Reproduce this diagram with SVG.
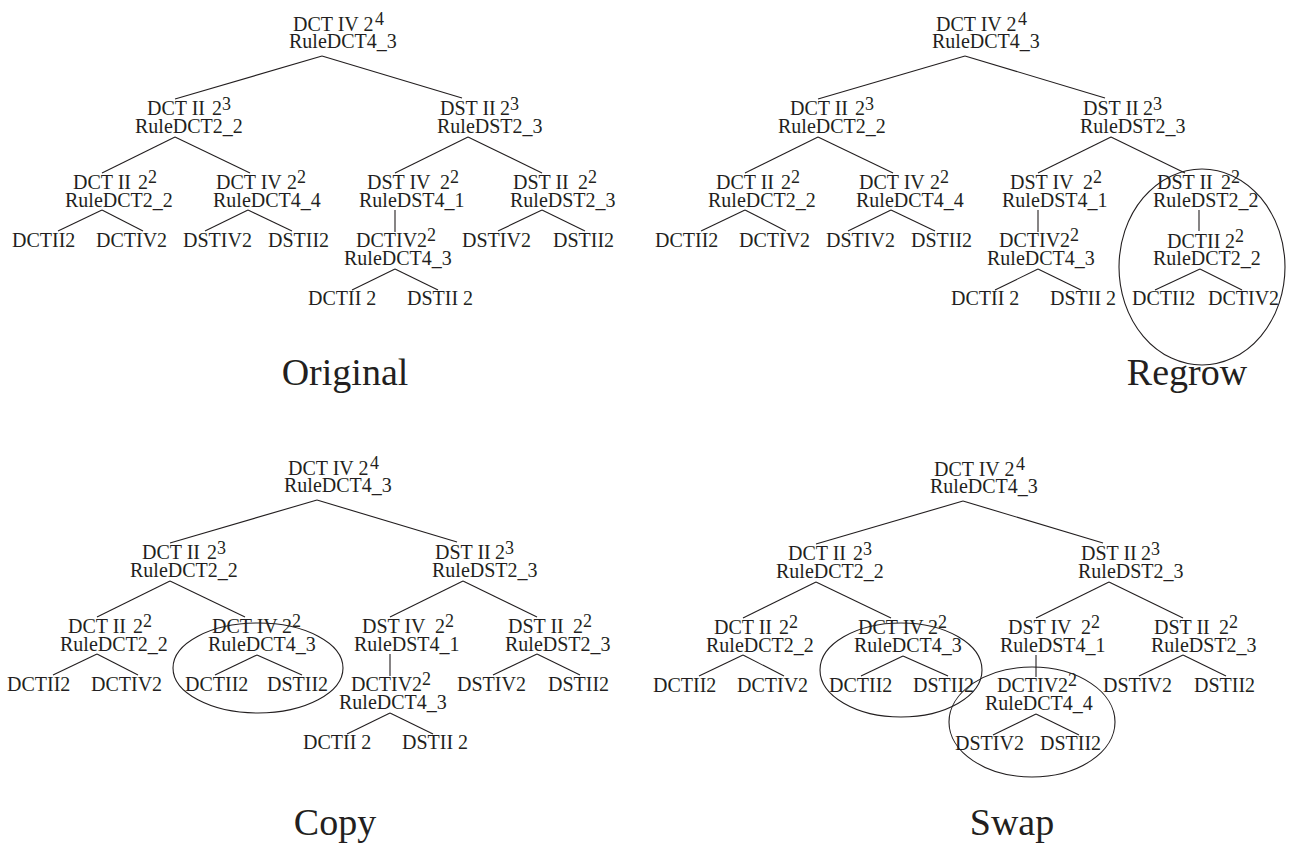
<svg xmlns="http://www.w3.org/2000/svg" width="1296" height="851" viewBox="0 0 1296 851">
<style>
text { font-family: "Liberation Serif", "Times New Roman", serif; font-size: 20px; fill: #231f20; }
.s { font-size: 18px; }
.title { font-size: 38px; text-anchor: middle; }
line { stroke: #231f20; stroke-width: 1.1; }
ellipse { fill: none; stroke: #231f20; stroke-width: 1.1; }
</style>
<rect width="1296" height="851" fill="#fff"/>

<!-- ============ ORIGINAL ============ -->
<g id="original" transform="translate(0,0)">
  <g id="o-edges">
    <line x1="322" y1="56" x2="175" y2="99"/><line x1="322" y1="56" x2="462" y2="98"/>
    <line x1="175" y1="137" x2="102" y2="173"/><line x1="175" y1="137" x2="250" y2="173"/>
    <line x1="468" y1="137" x2="395" y2="173"/><line x1="468" y1="137" x2="542" y2="173"/>
    <line x1="102" y1="210" x2="58" y2="231"/><line x1="102" y1="210" x2="143" y2="231"/>
    <line x1="248" y1="210" x2="205" y2="231"/><line x1="248" y1="210" x2="292" y2="231"/>
    <line x1="395" y1="210" x2="395" y2="232"/>
    <line x1="542" y1="210" x2="498" y2="231"/><line x1="542" y1="210" x2="585" y2="231"/>
    <line x1="395" y1="269" x2="352" y2="290"/><line x1="395" y1="269" x2="438" y2="290"/>
  </g>
  <g id="o-root"><text x="293" y="31">DCT IV 2<tspan class="s" x="375" dy="-6">4</tspan><tspan x="289" dy="23">RuleDCT4_3</tspan></text></g>
  <g id="o-dct2-3"><text x="147" y="115">DCT II<tspan x="212">2</tspan><tspan class="s" x="222" dy="-5">3</tspan><tspan x="135" dy="23">RuleDCT2_2</tspan></text></g>
  <g id="o-dst2-3"><text x="440" y="115">DST II<tspan x="500">2</tspan><tspan class="s" x="510" dy="-5">3</tspan><tspan x="437" dy="23">RuleDST2_3</tspan></text></g>
  <g id="o-dct2-2"><text x="73" y="189">DCT II<tspan x="138">2</tspan><tspan class="s" x="148" dy="-6">2</tspan><tspan x="65" dy="24">RuleDCT2_2</tspan></text></g>
  <g id="o-dct4-2"><text x="216" y="189">DCT IV<tspan x="287">2</tspan><tspan class="s" x="297" dy="-6">2</tspan><tspan x="213" dy="24">RuleDCT4_4</tspan></text></g>
  <g id="o-dst4-2"><text x="367" y="189">DST IV<tspan x="440">2</tspan><tspan class="s" x="450" dy="-6">2</tspan><tspan x="359" dy="24">RuleDST4_1</tspan></text></g>
  <g id="o-dst2-2"><text x="513" y="189">DST II<tspan x="578">2</tspan><tspan class="s" x="588" dy="-6">2</tspan><tspan x="510" dy="24">RuleDST2_3</tspan></text></g>
  <g id="o-dctiv2"><text x="356" y="247">DCTIV2<tspan class="s" x="427" dy="-6">2</tspan><tspan x="344" dy="24">RuleDCT4_3</tspan></text></g>
  <g id="o-leaves">
    <text x="12" y="247">DCTII2</text><text x="96" y="247">DCTIV2</text><text x="183" y="247">DSTIV2</text><text x="268" y="247">DSTII2</text>
    <text x="462" y="247">DSTIV2</text><text x="553" y="247">DSTII2</text>
    <text x="308" y="305">DCTII 2</text><text x="407" y="305">DSTII 2</text>
  </g>
  <text class="title" x="345" y="385">Original</text>
</g>

<!-- ============ REGROW ============ -->
<g id="regrow" transform="translate(643,0)">
  <g id="r-edges">
    <line x1="322" y1="56" x2="175" y2="99"/><line x1="322" y1="56" x2="462" y2="98"/>
    <line x1="175" y1="137" x2="102" y2="173"/><line x1="175" y1="137" x2="250" y2="173"/>
    <line x1="468" y1="137" x2="395" y2="173"/><line x1="468" y1="137" x2="542" y2="173"/>
    <line x1="102" y1="210" x2="58" y2="231"/><line x1="102" y1="210" x2="143" y2="231"/>
    <line x1="248" y1="210" x2="205" y2="231"/><line x1="248" y1="210" x2="292" y2="231"/>
    <line x1="395" y1="210" x2="395" y2="232"/>
    <line x1="556" y1="210" x2="556" y2="231"/>
    <line x1="395" y1="269" x2="352" y2="290"/><line x1="395" y1="269" x2="438" y2="290"/>
    <line x1="557" y1="269" x2="512" y2="290"/><line x1="557" y1="269" x2="599" y2="290"/>
  </g>
  <g id="r-root"><text x="293" y="31">DCT IV 2<tspan class="s" x="375" dy="-6">4</tspan><tspan x="289" dy="23">RuleDCT4_3</tspan></text></g>
  <g id="r-dct2-3"><text x="147" y="115">DCT II<tspan x="212">2</tspan><tspan class="s" x="222" dy="-5">3</tspan><tspan x="135" dy="23">RuleDCT2_2</tspan></text></g>
  <g id="r-dst2-3"><text x="440" y="115">DST II<tspan x="500">2</tspan><tspan class="s" x="510" dy="-5">3</tspan><tspan x="437" dy="23">RuleDST2_3</tspan></text></g>
  <g id="r-dct2-2"><text x="73" y="189">DCT II<tspan x="138">2</tspan><tspan class="s" x="148" dy="-6">2</tspan><tspan x="65" dy="24">RuleDCT2_2</tspan></text></g>
  <g id="r-dct4-2"><text x="216" y="189">DCT IV<tspan x="287">2</tspan><tspan class="s" x="297" dy="-6">2</tspan><tspan x="213" dy="24">RuleDCT4_4</tspan></text></g>
  <g id="r-dst4-2"><text x="367" y="189">DST IV<tspan x="440">2</tspan><tspan class="s" x="450" dy="-6">2</tspan><tspan x="359" dy="24">RuleDST4_1</tspan></text></g>
  <g id="r-dst2-2"><text x="514" y="189">DST II<tspan x="578">2</tspan><tspan class="s" x="588" dy="-6">2</tspan><tspan x="510" dy="24">RuleDST2_2</tspan></text></g>
  <g id="r-dctii2"><text x="524" y="248">DCTII<tspan x="582">2</tspan><tspan class="s" x="592" dy="-6">2</tspan><tspan x="510" dy="23">RuleDCT2_2</tspan></text></g>
  <g id="r-dctiv2"><text x="356" y="247">DCTIV2<tspan class="s" x="427" dy="-6">2</tspan><tspan x="344" dy="24">RuleDCT4_3</tspan></text></g>
  <g id="r-leaves">
    <text x="12" y="247">DCTII2</text><text x="96" y="247">DCTIV2</text><text x="183" y="247">DSTIV2</text><text x="268" y="247">DSTII2</text>
    <text x="308" y="305">DCTII 2</text><text x="407" y="305">DSTII 2</text>
    <text x="489" y="305">DCTII2</text><text x="565" y="305">DCTIV2</text>
  </g>
  <ellipse id="r-circle" cx="559" cy="267" rx="83" ry="98"/>
  <text class="title" x="544" y="385">Regrow</text>
</g>

<!-- ============ COPY ============ -->
<g id="copy" transform="translate(-5,444)">
  <g id="c-edges">
    <line x1="322" y1="56" x2="175" y2="99"/><line x1="322" y1="56" x2="462" y2="98"/>
    <line x1="175" y1="137" x2="102" y2="173"/><line x1="175" y1="137" x2="250" y2="173"/>
    <line x1="468" y1="137" x2="395" y2="173"/><line x1="468" y1="137" x2="542" y2="173"/>
    <line x1="102" y1="210" x2="58" y2="231"/><line x1="102" y1="210" x2="143" y2="231"/>
    <line x1="262" y1="211" x2="220" y2="231"/><line x1="262" y1="211" x2="307" y2="231"/>
    <line x1="395" y1="210" x2="395" y2="232"/>
    <line x1="542" y1="210" x2="498" y2="231"/><line x1="542" y1="210" x2="585" y2="231"/>
    <line x1="395" y1="269" x2="352" y2="290"/><line x1="395" y1="269" x2="438" y2="290"/>
  </g>
  <g id="c-root"><text x="293" y="31">DCT IV 2<tspan class="s" x="375" dy="-6">4</tspan><tspan x="289" dy="23">RuleDCT4_3</tspan></text></g>
  <g id="c-dct2-3"><text x="147" y="115">DCT II<tspan x="212">2</tspan><tspan class="s" x="222" dy="-5">3</tspan><tspan x="135" dy="23">RuleDCT2_2</tspan></text></g>
  <g id="c-dst2-3"><text x="440" y="115">DST II<tspan x="500">2</tspan><tspan class="s" x="510" dy="-5">3</tspan><tspan x="437" dy="23">RuleDST2_3</tspan></text></g>
  <g id="c-dct2-2"><text x="73" y="189">DCT II<tspan x="138">2</tspan><tspan class="s" x="148" dy="-6">2</tspan><tspan x="65" dy="24">RuleDCT2_2</tspan></text></g>
  <g id="c-dct4-2"><text x="217" y="189">DCT IV<tspan x="287">2</tspan><tspan class="s" x="297" dy="-6">2</tspan><tspan x="213" dy="24">RuleDCT4_3</tspan></text></g>
  <g id="c-dst4-2"><text x="367" y="189">DST IV<tspan x="440">2</tspan><tspan class="s" x="450" dy="-6">2</tspan><tspan x="359" dy="24">RuleDST4_1</tspan></text></g>
  <g id="c-dst2-2"><text x="513" y="189">DST II<tspan x="578">2</tspan><tspan class="s" x="588" dy="-6">2</tspan><tspan x="510" dy="24">RuleDST2_3</tspan></text></g>
  <g id="c-dctiv2"><text x="356" y="247">DCTIV2<tspan class="s" x="427" dy="-6">2</tspan><tspan x="344" dy="24">RuleDCT4_3</tspan></text></g>
  <g id="c-leaves">
    <text x="12" y="247">DCTII2</text><text x="96" y="247">DCTIV2</text><text x="190" y="247">DCTII2</text><text x="272" y="247">DSTII2</text>
    <text x="462" y="247">DSTIV2</text><text x="553" y="247">DSTII2</text>
    <text x="308" y="305">DCTII 2</text><text x="407" y="305">DSTII 2</text>
  </g>
  <ellipse id="c-circle" cx="263" cy="224" rx="85" ry="45"/>
  <text class="title" x="340" y="391">Copy</text>
</g>

<!-- ============ SWAP ============ -->
<g id="swap" transform="translate(641,445)">
  <g id="s-edges">
    <line x1="322" y1="56" x2="175" y2="99"/><line x1="322" y1="56" x2="462" y2="98"/>
    <line x1="175" y1="137" x2="102" y2="173"/><line x1="175" y1="137" x2="250" y2="173"/>
    <line x1="468" y1="137" x2="395" y2="173"/><line x1="468" y1="137" x2="542" y2="173"/>
    <line x1="102" y1="210" x2="58" y2="231"/><line x1="102" y1="210" x2="143" y2="231"/>
    <line x1="262" y1="211" x2="220" y2="231"/><line x1="262" y1="211" x2="307" y2="231"/>
    <line x1="395" y1="210" x2="395" y2="232"/>
    <line x1="542" y1="210" x2="498" y2="231"/><line x1="542" y1="210" x2="585" y2="231"/>
    <line x1="395" y1="269" x2="352" y2="290"/><line x1="395" y1="269" x2="438" y2="290"/>
  </g>
  <g id="s-root"><text x="293" y="31">DCT IV 2<tspan class="s" x="375" dy="-6">4</tspan><tspan x="289" dy="23">RuleDCT4_3</tspan></text></g>
  <g id="s-dct2-3"><text x="147" y="115">DCT II<tspan x="212">2</tspan><tspan class="s" x="222" dy="-5">3</tspan><tspan x="135" dy="23">RuleDCT2_2</tspan></text></g>
  <g id="s-dst2-3"><text x="440" y="115">DST II<tspan x="500">2</tspan><tspan class="s" x="510" dy="-5">3</tspan><tspan x="437" dy="23">RuleDST2_3</tspan></text></g>
  <g id="s-dct2-2"><text x="73" y="189">DCT II<tspan x="138">2</tspan><tspan class="s" x="148" dy="-6">2</tspan><tspan x="65" dy="24">RuleDCT2_2</tspan></text></g>
  <g id="s-dct4-2"><text x="217" y="189">DCT IV<tspan x="287">2</tspan><tspan class="s" x="297" dy="-6">2</tspan><tspan x="213" dy="24">RuleDCT4_3</tspan></text></g>
  <g id="s-dst4-2"><text x="367" y="189">DST IV<tspan x="440">2</tspan><tspan class="s" x="450" dy="-6">2</tspan><tspan x="359" dy="24">RuleDST4_1</tspan></text></g>
  <g id="s-dst2-2"><text x="513" y="189">DST II<tspan x="578">2</tspan><tspan class="s" x="588" dy="-6">2</tspan><tspan x="510" dy="24">RuleDST2_3</tspan></text></g>
  <g id="s-dctiv2"><text x="356" y="247">DCTIV2<tspan class="s" x="427" dy="-6">2</tspan><tspan x="344" dy="24">RuleDCT4_4</tspan></text></g>
  <g id="s-leaves">
    <text x="12" y="247">DCTII2</text><text x="96" y="247">DCTIV2</text><text x="188" y="247">DCTII2</text><text x="272" y="247">DSTII2</text>
    <text x="462" y="247">DSTIV2</text><text x="553" y="247">DSTII2</text>
    <text x="314" y="305">DSTIV2</text><text x="399" y="305">DSTII2</text>
  </g>
  <ellipse id="s-circle1" cx="260" cy="225" rx="81" ry="47"/>
  <ellipse id="s-circle2" cx="391" cy="277" rx="83" ry="55"/>
  <text class="title" x="371" y="390">Swap</text>
</g>
</svg>
